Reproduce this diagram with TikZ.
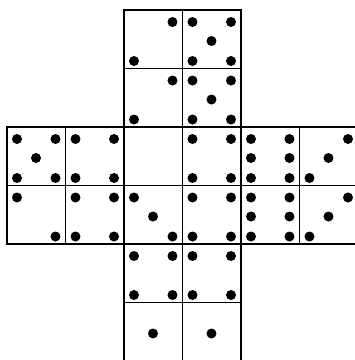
\documentclass[tikz,border=0pt]{standalone}
\usetikzlibrary{positioning}
\tikzset{
  facebox/.style={line width=1.9pt},
  pip/.style={fill=black}
}
% pip offsets inside one face
\newcommand{\cs}{58.5}
\newcommand{\pL}{10}
\newcommand{\pC}{29}
\newcommand{\pR}{48.5}
\newcommand{\pT}{12}
\newcommand{\pM}{31}
\newcommand{\pB}{51}
\newcommand{\dieface}[3]{%
  \foreach \dx/\dy in {#3}
    \fill[pip] ({#1*\cs+7+\dx},{#2*\cs+10+\dy}) circle (5);}

\begin{document}
\begin{tikzpicture}[x=1pt, y=-1pt]
      \useasboundingbox (0,0) rectangle (355,360);
      \clip (0,0) rectangle (355,360);
      % net of faces
      \foreach \c/\r in {2/0,3/0,2/1,3/1,
                         0/2,1/2,2/2,3/2,4/2,5/2,
                         0/3,1/3,2/3,3/3,4/3,5/3,
                         2/4,3/4,2/5,3/5}
        \draw[facebox] ({\c*\cs+7},{\r*\cs+10}) rectangle ++(\cs,\cs);
      % top arm
      \dieface{2}{0}{\pR/\pT,\pL/\pB}
      \dieface{3}{0}{\pL/\pT,\pR/\pT,\pC/\pM,\pL/\pB,\pR/\pB}
      \dieface{2}{1}{\pR/\pT,\pL/\pB}
      \dieface{3}{1}{\pL/\pT,\pR/\pT,\pC/\pM,\pL/\pB,\pR/\pB}
      % middle band
      \dieface{0}{2}{\pL/\pT,\pR/\pT,\pC/\pM,\pL/\pB,\pR/\pB}
      \dieface{1}{2}{\pL/\pT,\pR/\pT,\pL/\pB,\pR/\pB}
      \dieface{3}{2}{\pL/\pT,\pR/\pT,\pL/\pB,\pR/\pB}
      \dieface{4}{2}{\pL/\pT,\pR/\pT,\pL/\pM,\pR/\pM,\pL/\pB,\pR/\pB}
      \dieface{5}{2}{\pR/\pT,\pC/\pM,\pL/\pB}
      \dieface{0}{3}{\pL/\pT,\pR/\pB}
      \dieface{1}{3}{\pL/\pT,\pR/\pT,\pL/\pB,\pR/\pB}
      \dieface{2}{3}{\pL/\pT,\pC/\pM,\pR/\pB}
      \dieface{3}{3}{\pL/\pT,\pR/\pT,\pL/\pB,\pR/\pB}
      \dieface{4}{3}{\pL/\pT,\pR/\pT,\pL/\pM,\pR/\pM,\pL/\pB,\pR/\pB}
      \dieface{5}{3}{\pR/\pT,\pC/\pM,\pL/\pB}
      % bottom arm
      \dieface{2}{4}{\pL/\pT,\pR/\pT,\pL/\pB,\pR/\pB}
      \dieface{3}{4}{\pL/\pT,\pR/\pT,\pL/\pB,\pR/\pB}
      \dieface{2}{5}{\pC/\pM}
      \dieface{3}{5}{\pC/\pM}
    \end{tikzpicture}
\end{document}
